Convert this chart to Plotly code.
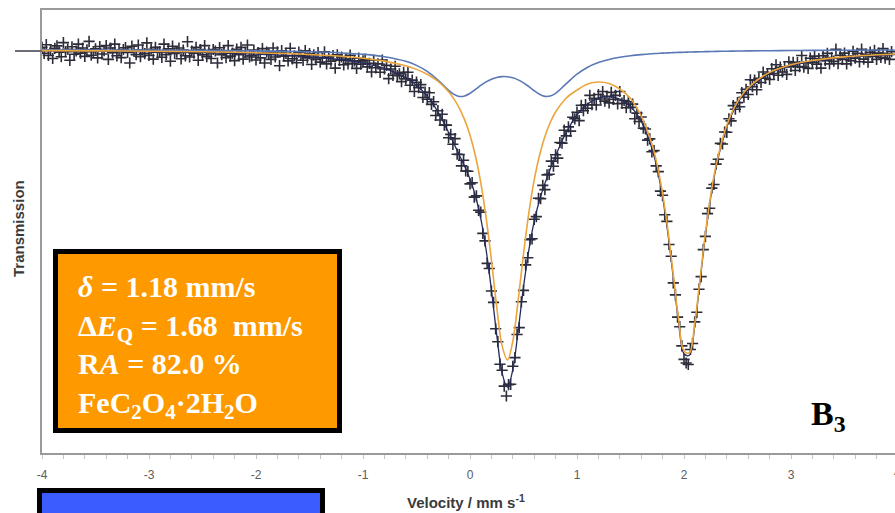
import plotly.graph_objects as go

# ---------------------------------------------------------------------------
# Mössbauer spectrum: measured transmission (%) vs. source velocity (mm/s)
# ---------------------------------------------------------------------------
velocity = [
    -4.00, -3.98, -3.96, -3.94, -3.92, -3.90, -3.88, -3.86, -3.84, -3.82,
    -3.80, -3.78, -3.76, -3.74, -3.72, -3.70, -3.68, -3.66, -3.64, -3.62,
    -3.60, -3.58, -3.56, -3.54, -3.52, -3.50, -3.48, -3.46, -3.44, -3.42,
    -3.40, -3.38, -3.36, -3.34, -3.32, -3.30, -3.28, -3.26, -3.24, -3.22,
    -3.20, -3.18, -3.16, -3.14, -3.12, -3.10, -3.08, -3.06, -3.04, -3.02,
    -3.00, -2.98, -2.96, -2.94, -2.92, -2.90, -2.88, -2.86, -2.84, -2.82,
    -2.80, -2.78, -2.76, -2.74, -2.72, -2.70, -2.68, -2.66, -2.64, -2.62,
    -2.60, -2.58, -2.56, -2.54, -2.52, -2.50, -2.48, -2.46, -2.44, -2.42,
    -2.40, -2.38, -2.36, -2.34, -2.32, -2.30, -2.28, -2.26, -2.24, -2.22,
    -2.20, -2.18, -2.16, -2.14, -2.12, -2.10, -2.08, -2.06, -2.04, -2.02,
    -2.00, -1.98, -1.96, -1.94, -1.92, -1.90, -1.88, -1.86, -1.84, -1.82,
    -1.80, -1.78, -1.76, -1.74, -1.72, -1.70, -1.68, -1.66, -1.64, -1.62,
    -1.60, -1.58, -1.56, -1.54, -1.52, -1.50, -1.48, -1.46, -1.44, -1.42,
    -1.40, -1.38, -1.36, -1.34, -1.32, -1.30, -1.28, -1.26, -1.24, -1.22,
    -1.20, -1.18, -1.16, -1.14, -1.12, -1.10, -1.08, -1.06, -1.04, -1.02,
    -1.00, -0.98, -0.96, -0.94, -0.92, -0.90, -0.88, -0.86, -0.84, -0.82,
    -0.80, -0.78, -0.76, -0.74, -0.72, -0.70, -0.68, -0.66, -0.64, -0.62,
    -0.60, -0.58, -0.56, -0.54, -0.52, -0.50, -0.48, -0.46, -0.44, -0.42,
    -0.40, -0.38, -0.36, -0.34, -0.32, -0.30, -0.28, -0.26, -0.24, -0.22,
    -0.20, -0.18, -0.16, -0.14, -0.12, -0.10, -0.08, -0.06, -0.04, -0.02,
    0.00, 0.02, 0.04, 0.06, 0.08, 0.10, 0.12, 0.14, 0.16, 0.18,
    0.20, 0.22, 0.24, 0.26, 0.28, 0.30, 0.32, 0.34, 0.36, 0.38,
    0.40, 0.42, 0.44, 0.46, 0.48, 0.50, 0.52, 0.54, 0.56, 0.58,
    0.60, 0.62, 0.64, 0.66, 0.68, 0.70, 0.72, 0.74, 0.76, 0.78,
    0.80, 0.82, 0.84, 0.86, 0.88, 0.90, 0.92, 0.94, 0.96, 0.98,
    1.00, 1.02, 1.04, 1.06, 1.08, 1.10, 1.12, 1.14, 1.16, 1.18,
    1.20, 1.22, 1.24, 1.26, 1.28, 1.30, 1.32, 1.34, 1.36, 1.38,
    1.40, 1.42, 1.44, 1.46, 1.48, 1.50, 1.52, 1.54, 1.56, 1.58,
    1.60, 1.62, 1.64, 1.66, 1.68, 1.70, 1.72, 1.74, 1.76, 1.78,
    1.80, 1.82, 1.84, 1.86, 1.88, 1.90, 1.92, 1.94, 1.96, 1.98,
    2.00, 2.02, 2.04, 2.06, 2.08, 2.10, 2.12, 2.14, 2.16, 2.18,
    2.20, 2.22, 2.24, 2.26, 2.28, 2.30, 2.32, 2.34, 2.36, 2.38,
    2.40, 2.42, 2.44, 2.46, 2.48, 2.50, 2.52, 2.54, 2.56, 2.58,
    2.60, 2.62, 2.64, 2.66, 2.68, 2.70, 2.72, 2.74, 2.76, 2.78,
    2.80, 2.82, 2.84, 2.86, 2.88, 2.90, 2.92, 2.94, 2.96, 2.98,
    3.00, 3.02, 3.04, 3.06, 3.08, 3.10, 3.12, 3.14, 3.16, 3.18,
    3.20, 3.22, 3.24, 3.26, 3.28, 3.30, 3.32, 3.34, 3.36, 3.38,
    3.40, 3.42, 3.44, 3.46, 3.48, 3.50, 3.52, 3.54, 3.56, 3.58,
    3.60, 3.62, 3.64, 3.66, 3.68, 3.70, 3.72, 3.74, 3.76, 3.78,
    3.80, 3.82, 3.84, 3.86, 3.88, 3.90, 3.92, 3.94,
]

transmission = [
    100.07, 99.87, 100.16, 99.80, 99.98, 99.70, 100.04, 100.12, 99.91, 99.76,
    100.23, 99.93, 100.01, 99.64, 100.09, 99.84, 99.95, 100.18, 99.88, 100.05,
    99.77, 99.99, 100.27, 99.81, 99.93, 100.02, 99.72, 100.10, 99.85, 99.96,
    100.13, 99.67, 100.05, 99.89, 100.18, 99.79, 99.97, 99.73, 100.00, 100.06,
    99.90, 99.55, 100.11, 99.94, 99.83, 100.15, 99.76, 99.98, 99.86, 100.22,
    99.80, 100.01, 99.68, 100.07, 99.91, 99.93, 99.74, 100.18, 99.83, 100.02,
    99.61, 100.11, 99.87, 99.91, 100.05, 99.69, 99.98, 99.79, 100.26, 99.75,
    99.95, 99.88, 100.07, 99.64, 100.00, 99.82, 100.13, 99.76, 99.91, 99.70,
    100.00, 99.95, 99.55, 100.06, 99.83, 99.96, 99.73, 100.13, 99.78, 99.88,
    99.63, 100.01, 99.83, 100.07, 99.68, 99.90, 100.15, 99.75, 99.79, 99.98,
    99.65, 99.90, 99.72, 100.03, 99.55, 99.91, 99.85, 99.67, 100.05, 99.75,
    99.92, 99.46, 99.96, 99.78, 99.87, 99.62, 100.04, 99.69, 99.79, 99.56,
    99.91, 99.81, 99.64, 99.96, 99.72, 99.86, 99.50, 99.82, 99.67, 99.90,
    99.58, 99.72, 99.92, 99.52, 99.75, 99.61, 99.80, 99.38, 99.82, 99.64,
    99.75, 99.49, 99.68, 99.52, 99.81, 99.54, 99.62, 99.37, 99.71, 99.51,
    99.62,
    99.68, 99.42, 99.54, 99.25, 99.65, 99.39, 99.52, 99.24, 99.65, 99.35,
    99.47, 99.03, 99.35, 99.14, 99.44, 99.13, 99.19, 98.93, 99.24, 99.02,
    99.24, 98.81, 98.98, 98.60, 98.91, 98.73, 98.83, 98.40, 98.58, 98.34,
    98.56, 98.17, 98.26, 97.80, 97.96, 97.65, 97.84, 97.48, 97.48, 97.06,
    97.17, 96.84, 97.03, 96.51, 96.50, 96.12, 96.31, 95.95, 95.94, 95.52,
    95.56, 95.08, 95.12, 94.64, 94.58, 93.87, 93.62, 92.87, 92.70, 91.95,
    91.57, 90.69, 90.26, 89.51, 89.31, 88.78, 88.45, 88.83, 88.84, 89.44,
    89.73, 90.50, 90.73, 91.59, 91.97, 92.82, 93.06, 93.66, 93.69, 94.34,
    94.43, 95.04, 95.03, 95.47, 95.33,
    95.82, 95.84, 96.28, 96.11, 96.49, 96.38, 96.90, 96.88, 97.31, 97.12,
    97.42, 97.28, 97.74, 97.69, 97.91, 97.63, 98.14, 97.96, 98.16, 98.04,
    98.47, 98.16, 98.37, 98.15, 98.50, 98.35, 98.60, 98.28, 98.44, 98.22,
    98.57, 98.34, 98.47, 98.19, 98.60, 98.21, 98.30, 98.06, 98.26, 98.07,
    98.18, 97.69, 97.88, 97.60, 97.75, 97.38, 97.35, 96.98, 97.02,
    96.59, 96.63, 96.12, 95.93, 95.28, 95.14, 94.49, 94.27, 93.50, 93.11,
    92.22, 91.82, 91.08, 90.76, 90.12, 89.67, 89.55, 89.50, 90.00, 90.20,
    90.92, 91.24, 92.01, 92.43, 93.33, 93.77, 94.53, 94.71, 95.38, 95.50,
    96.18, 96.34, 96.87, 96.85, 97.25, 97.24,
    97.69, 97.62, 98.13, 98.01, 98.23, 98.09, 98.56, 98.41, 98.67, 98.50,
    98.99, 98.76, 98.98, 98.66, 99.04, 98.90, 99.25, 99.04, 99.18, 99.00,
    99.36, 99.20, 99.49, 99.14, 99.41, 99.25, 99.42, 99.17, 99.59, 99.44,
    99.57, 99.30, 99.56, 99.43, 99.80, 99.41, 99.57, 99.37, 99.71, 99.56,
    99.78, 99.51, 99.70, 99.38, 99.79, 99.63, 99.87, 99.52, 99.73, 99.61,
    100.01, 99.53, 99.81, 99.67, 99.88, 99.52, 99.77, 99.63, 99.94, 99.71,
    99.87, 99.59, 100.01, 99.68, 99.84, 99.58, 99.91, 99.77, 99.97, 99.67,
    99.88, 99.74, 100.03, 99.71, 99.86, 99.67, 99.93,
]

# Fitted curves (transmission %), sampled on a shared velocity grid
fit_velocity = [
    -4.0, -3.5, -3.0, -2.5, -2.0, -1.5, -1.2, -1.0, -0.8, -0.6,
    -0.5, -0.4, -0.3, -0.2, -0.15, -0.1, -0.05, 0.0, 0.05, 0.1,
    0.15, 0.2, 0.25, 0.3, 0.35, 0.4, 0.45, 0.5, 0.55, 0.6,
    0.65, 0.7, 0.75, 0.8, 0.9, 1.0, 1.1, 1.2, 1.3, 1.4,
    1.5, 1.6, 1.7, 1.75, 1.8, 1.85, 1.9, 1.95, 2.0, 2.05,
    2.1, 2.15, 2.2, 2.25, 2.3, 2.4, 2.5, 2.6, 2.8, 3.0,
    3.2, 3.5, 3.97,
]

# Sum of both doublets
fit_total = [
    99.952, 99.940, 99.922, 99.894, 99.847, 99.758, 99.658, 99.549, 99.374, 99.063,
    98.810, 98.446, 97.923, 97.235, 96.858, 96.483, 96.105, 95.681, 95.133, 94.377,
    93.333, 91.993, 90.487, 89.217, 88.743, 89.330, 90.623, 92.077, 93.320, 94.273,
    94.983, 95.537, 96.013, 96.457, 97.243, 97.824, 98.188, 98.379, 98.430, 98.347,
    98.101, 97.613, 96.711, 96.010, 95.077, 93.857, 92.393, 90.897, 89.857, 89.807,
    90.777, 92.280, 93.797, 95.080, 96.083, 97.422, 98.202, 98.680, 99.200, 99.459,
    99.606, 99.733, 99.833,
]

# FeC2O4·2H2O doublet (delta = 1.18 mm/s, dEQ = 1.68 mm/s)
fit_oxalate = [
    99.964, 99.955, 99.943, 99.923, 99.892, 99.834, 99.773, 99.709, 99.613, 99.456,
    99.338, 99.175, 98.942, 98.595, 98.354, 98.048, 97.655, 97.142, 96.467, 95.573,
    94.413, 92.983, 91.417, 90.120, 89.650, 90.273, 91.637, 93.187, 94.557, 95.647,
    96.477, 97.100, 97.567, 97.917, 98.383, 98.646, 98.850, 98.917, 98.867, 98.683,
    98.367, 97.784, 96.854, 96.143, 95.197, 93.970, 92.497, 90.993, 89.950, 89.890,
    90.857, 92.353, 93.867, 95.147, 96.147, 97.479, 98.253, 98.726, 99.238, 99.492,
    99.635, 99.756, 99.850,
]

# Minor doublet
fit_minor = [
    99.988, 99.984, 99.979, 99.970, 99.955, 99.924, 99.885, 99.840, 99.761, 99.607,
    99.472, 99.271, 98.981, 98.641, 98.504, 98.435, 98.450, 98.539, 98.668, 98.803,
    98.921, 99.011, 99.070, 99.097, 99.092, 99.056, 98.988, 98.889, 98.764, 98.628,
    98.508, 98.437, 98.447, 98.538, 98.860, 99.178, 99.410, 99.565, 99.669, 99.741,
    99.792, 99.829, 99.857, 99.868, 99.878, 99.887, 99.895, 99.903, 99.909, 99.915,
    99.920, 99.925, 99.929, 99.933, 99.937, 99.943, 99.949, 99.954, 99.961, 99.967,
    99.972, 99.977, 99.983,
]

x_tick_values = [-4, -3, -2, -1, 0, 1, 2, 3]
x_tick_labels = ["-4", "-3", "-2", "-1", "0", "1", "2", "3"]

# ---------------------------------------------------------------------------
# Figure geometry (pixels) and helpers to place decorations in paper units
# ---------------------------------------------------------------------------
W, H = 895, 513
ML, MR, MT, MB = 42, 0, 10, 60
PW, PH = W - ML - MR, H - MT - MB


def px(xp):
    return (xp - ML) / PW


def py(yp):
    return (H - MB - yp) / PH


AXIS_GREY = "#9a9a9a"
SANS = "Liberation Sans, Arial, sans-serif"
SERIF = "Liberation Serif, Times New Roman, serif"

fig = go.Figure()

fig.add_trace(go.Scatter(
    x=velocity, y=transmission, mode="markers",
    marker=dict(symbol="cross-thin", size=8, color="#2c2c3a",
                line=dict(width=1.6, color="#2c2c3a")),
    showlegend=False, hoverinfo="skip",
))
fig.add_trace(go.Scatter(
    x=fit_velocity, y=fit_total, mode="lines",
    line=dict(color="#262b5c", width=1.3, shape="spline"),
    showlegend=False, hoverinfo="skip",
))
fig.add_trace(go.Scatter(
    x=fit_velocity, y=fit_minor, mode="lines",
    line=dict(color="#5a78b6", width=1.6, shape="spline"),
    showlegend=False, hoverinfo="skip",
))
fig.add_trace(go.Scatter(
    x=fit_velocity, y=fit_oxalate, mode="lines",
    line=dict(color="#eba53c", width=1.6, shape="spline"),
    showlegend=False, hoverinfo="skip",
))

fig.update_layout(
    width=W, height=H,
    margin=dict(l=ML, r=MR, t=MT, b=MB, pad=0),
    paper_bgcolor="white", plot_bgcolor="white",
    xaxis=dict(
        range=[-4, 3.972], showgrid=False, zeroline=False,
        showline=True, linecolor=AXIS_GREY, linewidth=2, mirror=True,
        tickmode="array", tickvals=x_tick_values, ticktext=x_tick_labels,
        ticks="outside", ticklen=4, tickwidth=1, tickcolor="#c4c4c4",
        ticklabelstandoff=6,
        tickfont=dict(family=SANS, size=12, color="#5c5c5c"),
        minor=dict(ticks="outside", dtick=0.2, tick0=-4, ticklen=4,
                   tickwidth=1, tickcolor="#c4c4c4"),
    ),
    yaxis=dict(
        range=[86.55, 101.317], showgrid=False, zeroline=False,
        showline=True, linecolor=AXIS_GREY, linewidth=2, mirror=False,
        showticklabels=False, ticks="",
    ),
    font=dict(family=SANS),
)

shapes = [
    # baseline stub left of the frame
    dict(type="line", xref="paper", yref="paper",
         x0=px(15), x1=px(42), y0=py(51), y1=py(51),
         line=dict(color="#6d6d78", width=2)),
    # parameter box
    dict(type="rect", xref="paper", yref="paper", layer="above",
         x0=px(55.5), x1=px(339.5), y0=py(430.5), y1=py(251.5),
         fillcolor="#ff9900", line=dict(color="black", width=5)),
    # blue box at the bottom edge
    dict(type="rect", xref="paper", yref="paper", layer="above",
         x0=px(39.5), x1=px(322.5), y0=py(545), y1=py(490.5),
         fillcolor="#3b5cff", line=dict(color="black", width=5)),
]
fig.update_layout(shapes=shapes)

box_font = dict(family=SERIF, size=30, color="white")
box_lines = [
    ("<b><i>δ</i> = 1.18 mm/s</b>", 286),
    ("<b>Δ<i>E</i><sub>Q</sub> = 1.68\u00a0 mm/s</b>", 328),
    ("<b>R<i>A</i> = 82.0 %</b>", 363),
    ("<b>FeC<sub>2</sub>O<sub>4</sub>·2H<sub>2</sub>O</b>", 405),
]

annotations = [
    dict(text="<b>Transmission</b>", xref="paper", yref="paper",
         x=px(18), y=py(229), xanchor="center", yanchor="middle",
         textangle=-90, showarrow=False,
         font=dict(family=SANS, size=15, color="#3a3a3a")),
    dict(text="<b>Velocity / mm s<sup>-1</sup></b>", xref="paper", yref="paper",
         x=px(466), y=py(502), xanchor="center", yanchor="middle",
         showarrow=False, font=dict(family=SANS, size=15, color="#3a3a3a")),
    dict(text="4", xref="paper", yref="paper", x=px(897), y=py(473),
         xanchor="center", yanchor="middle", showarrow=False,
         font=dict(family=SANS, size=12, color="#5c5c5c")),
    dict(text="<b>B<sub>3</sub></b>", xref="paper", yref="paper",
         x=px(809), y=py(416), xanchor="left", yanchor="middle",
         showarrow=False, font=dict(family=SERIF, size=34, color="black")),
]
for text, ypix in box_lines:
    annotations.append(dict(
        text=text, xref="paper", yref="paper", x=px(76), y=py(ypix),
        xanchor="left", yanchor="middle", showarrow=False, font=box_font,
    ))
fig.update_layout(annotations=annotations)

fig.write_html("out.html")
